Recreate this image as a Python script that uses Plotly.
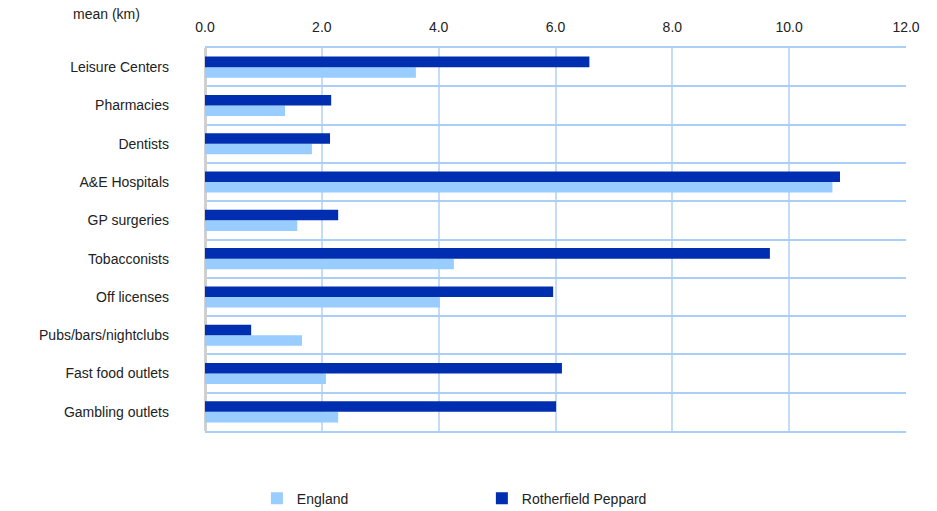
import plotly.graph_objects as go

categories = ["Leisure Centers", "Pharmacies", "Dentists", "A&E Hospitals", "GP surgeries",
              "Tobacconists", "Off licenses", "Pubs/bars/nightclubs", "Fast food outlets", "Gambling outlets"]
england = [3.61, 1.37, 1.83, 10.74, 1.58, 4.26, 4.02, 1.66, 2.07, 2.28]
rotherfield = [6.58, 2.16, 2.14, 10.87, 2.28, 9.67, 5.96, 0.79, 6.11, 6.01]
x_ticks = [0, 2, 4, 6, 8, 10, 12]

FONT = "Liberation Sans, Arial, sans-serif"

fig = go.Figure()
fig.add_trace(go.Bar(y=categories, x=england, orientation="h", name="England",
                     marker=dict(color="#99CCFF", line=dict(width=0))))
fig.add_trace(go.Bar(y=categories, x=rotherfield, orientation="h", name="Rotherfield Peppard",
                     marker=dict(color="#002EB0", line=dict(width=0))))

fig.update_layout(
    width=937, height=511,
    margin=dict(l=205, r=31, t=48, b=80, autoexpand=False),
    paper_bgcolor="white", plot_bgcolor="white",
    font=dict(family=FONT, size=14, color="#222222"),
    barmode="group", bargap=0.45, bargroupgap=0,
    showlegend=True,
    legend=dict(orientation="h", x=0.074, xanchor="left", y=-0.135, yanchor="top",
                entrywidth=180, entrywidthmode="pixels",
                font=dict(family=FONT, size=14, color="#222222")),
    annotations=[dict(text="mean (km)", xref="paper", yref="paper", x=-0.141, y=1.089,
                      showarrow=False, xanchor="center", yanchor="middle",
                      font=dict(family=FONT, size=14, color="#222222"))],
)
fig.update_xaxes(side="top", range=[0, 12], tickvals=x_ticks, tickformat=".1f",
                 showgrid=True, gridcolor="#C4DCF6", gridwidth=2,
                 showline=True, linecolor="#A9CFF7", linewidth=2, mirror=True,
                 zeroline=True, zerolinecolor="#D0D0D0", zerolinewidth=3,
                 ticks="", ticklabelstandoff=8, automargin=False, fixedrange=True)
fig.update_yaxes(categoryorder="array", categoryarray=categories[::-1],
                 tickson="boundaries", showgrid=True, gridcolor="#A9CFF7", gridwidth=2,
                 showline=False, ticks="", ticklabelstandoff=35, automargin=False,
                 fixedrange=True)

fig.write_html("out.html", config={"displayModeBar": False},
               post_script="document.body.style.margin='0';")
